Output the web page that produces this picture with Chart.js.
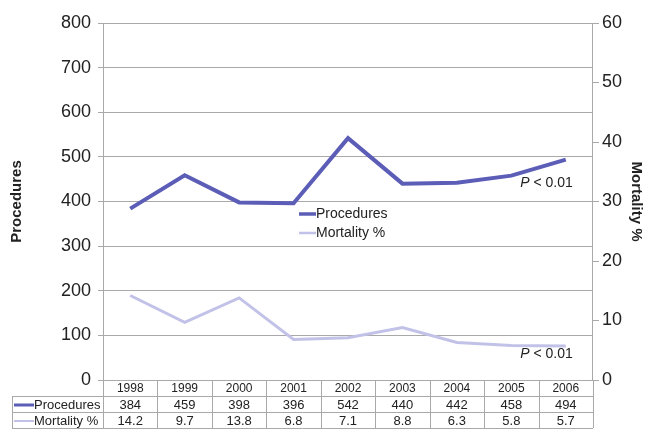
<!DOCTYPE html>
<html>
<head>
<meta charset="utf-8">
<script src="https://cdn.jsdelivr.net/npm/chart.js@4/dist/chart.umd.min.js"></script>
<style>
  html, body { margin: 0; padding: 0; background: #fff; }
  #wrap { width: 652px; height: 430px; position: relative; }
</style>
</head>
<body>
<div id="wrap"><canvas id="graph"></canvas></div>
<script>
const years = ['1998', '1999', '2000', '2001', '2002', '2003', '2004', '2005', '2006'];
const procedures = [384, 459, 398, 396, 542, 440, 442, 458, 494];
const mortality = [14.2, 9.7, 13.8, 6.8, 7.1, 8.8, 6.3, 5.8, 5.7];
const mortalityText = ['14.2', '9.7', '13.8', '6.8', '7.1', '8.8', '6.3', '5.8', '5.7'];

const darkBlue = '#5b5db6';
const lightBlue = '#c2c2e8';
const gridGray = '#a9a9a9';
const font = 'Liberation Sans, Arial, sans-serif';

// table under the plot + legend + p values
const extras = {
    id: 'extras',
    afterDraw(chart) {
        const ctx = chart.ctx;
        const x = chart.scales.x;
        const area = chart.chartArea;
        const colW = (area.right - area.left) / years.length;
        const top = area.bottom;
        const rows = [top, top + 16, top + 32, top + 48];
        const labelLeft = 12;

        ctx.save();
        ctx.strokeStyle = gridGray;
        ctx.lineWidth = 1;
        ctx.beginPath();
        ctx.moveTo(area.left, rows[0] + 0.5);
        ctx.lineTo(area.right, rows[0] + 0.5);
        for (let r = 1; r < rows.length; r++) {
            ctx.moveTo(labelLeft, rows[r] + 0.5);
            ctx.lineTo(area.right, rows[r] + 0.5);
        }
        ctx.moveTo(labelLeft + 0.5, rows[1]);
        ctx.lineTo(labelLeft + 0.5, rows[3]);
        for (let i = 0; i <= years.length; i++) {
            const px = Math.round(area.left + i * colW) + 0.5;
            ctx.moveTo(px, rows[0]);
            ctx.lineTo(px, rows[3]);
        }
        ctx.stroke();

        ctx.fillStyle = '#222';
        ctx.textAlign = 'center';
        ctx.textBaseline = 'middle';
        years.forEach((y, i) => {
            const cx = x.getPixelForValue(i);
            ctx.font = '12px ' + font;
            ctx.fillText(y, cx, (rows[0] + rows[1]) / 2 + 1);
            ctx.font = '13px ' + font;
            ctx.fillText(String(procedures[i]), cx, (rows[1] + rows[2]) / 2 + 1);
            ctx.fillText(mortalityText[i], cx, (rows[2] + rows[3]) / 2 + 1);
        });

        // row labels with line samples
        const rowInfo = [['Procedures', darkBlue, 3], ['Mortality %', lightBlue, 2]];
        rowInfo.forEach((r, k) => {
            const cy = (rows[k + 1] + rows[k + 2]) / 2 + 1;
            ctx.strokeStyle = r[1];
            ctx.lineWidth = r[2];
            ctx.beginPath();
            ctx.moveTo(labelLeft + 2, cy);
            ctx.lineTo(labelLeft + 22, cy);
            ctx.stroke();
            ctx.fillStyle = '#222';
            ctx.textAlign = 'left';
            ctx.font = '13px ' + font;
            ctx.fillText(r[0], labelLeft + 22, cy);
        });

        // legend inside the plot
        const lx = x.getPixelForValue(3.1);
        const ly = chart.scales.y.getPixelForValue(372);
        rowInfo.forEach((r, k) => {
            const cy = ly + k * 19;
            ctx.strokeStyle = r[1];
            ctx.lineWidth = r[2] + 0.5;
            ctx.beginPath();
            ctx.moveTo(lx, cy);
            ctx.lineTo(lx + 17, cy);
            ctx.stroke();
            ctx.fillStyle = '#222';
            ctx.textAlign = 'left';
            ctx.font = '14px ' + font;
            ctx.fillText(r[0], lx + 17, cy);
        });

        // P values
        const pRight = x.getPixelForValue(8) + 7;
        const drawP = (py) => {
            ctx.font = '14px ' + font;
            ctx.textAlign = 'right';
            ctx.fillStyle = '#222';
            const rest = ' < 0.01';
            const w = ctx.measureText(rest).width;
            ctx.fillText(rest, pRight, py);
            ctx.font = 'italic 14px ' + font;
            ctx.fillText('P', pRight - w, py);
        };
        drawP(chart.scales.y.getPixelForValue(442));
        drawP(chart.scales.y.getPixelForValue(58));
        ctx.restore();
    }
};

const config = {
    type: 'line',
    data: {
        labels: years,
        datasets: [{
            label: 'Procedures',
            data: procedures,
            borderColor: darkBlue,
            borderWidth: 4,
            pointRadius: 0,
            tension: 0,
            yAxisID: 'y'
        }, {
            label: 'Mortality %',
            data: mortality,
            borderColor: lightBlue,
            borderWidth: 3,
            pointRadius: 0,
            tension: 0,
            yAxisID: 'y1'
        }]
    },
    options: {
        responsive: true,
        maintainAspectRatio: false,
        animation: false,
        layout: { padding: { top: 23, bottom: 50, left: 8, right: 1 } },
        plugins: {
            legend: { display: false },
            tooltip: { enabled: false }
        },
        scales: {
            x: {
                display: false,
                offset: true
            },
            y: {
                position: 'left',
                min: 0,
                max: 800,
                ticks: { stepSize: 100, color: '#222', font: { family: font, size: 18 }, padding: 7 },
                grid: { color: gridGray, tickLength: 5 },
                border: { color: gridGray },
                title: { display: true, text: 'Procedures', color: '#222', font: { family: font, size: 15, weight: 'bold' }, padding: { top: 0, bottom: 28 } }
            },
            y1: {
                position: 'right',
                min: 0,
                max: 60,
                ticks: { stepSize: 10, color: '#222', font: { family: font, size: 18 }, padding: 3 },
                grid: { drawOnChartArea: false, color: gridGray, tickLength: 6 },
                border: { color: gridGray },
                title: { display: true, text: 'Mortality %', color: '#222', font: { family: font, size: 15, weight: 'bold' }, padding: { top: 6, bottom: 2 } }
            }
        }
    },
    plugins: [extras]
};

const graph = document.querySelector('#graph');
new Chart(graph, config);
</script>
</body>
</html>
